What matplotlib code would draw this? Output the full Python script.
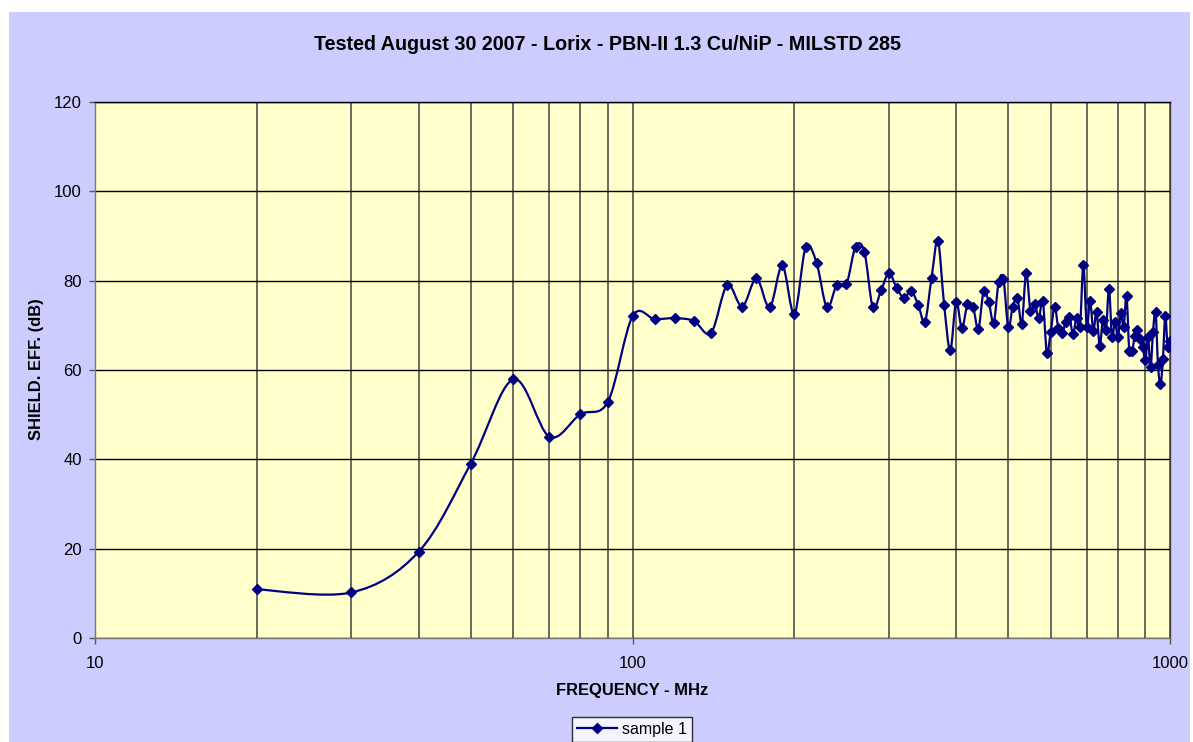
import numpy as np
import matplotlib
matplotlib.use("Agg")
import matplotlib.pyplot as plt
from matplotlib.path import Path
from matplotlib.patches import PathPatch, Rectangle
from matplotlib.lines import Line2D
from matplotlib.ticker import FixedLocator, NullLocator, FixedFormatter

plt.rcParams['font.family'] = ['Liberation Sans', 'DejaVu Sans']

title = "Tested August 30 2007 - Lorix - PBN-II 1.3 Cu/NiP - MILSTD 285"
x_label = "FREQUENCY - MHz"
y_label = "SHIELD. EFF. (dB)"
series_name = "sample 1"

freq_mhz = list(range(20, 1001, 10))
shield_db = [
    10.9, 10.2, 19.3, 39.0, 57.9, 45.1, 50.1, 52.9, 72.0,          # 20-100
    71.4, 71.6, 71.0, 68.3, 79.0, 74.2, 80.5, 74.0, 83.4, 72.5,    # 110-200
    87.5, 84.0, 74.0, 79.1, 79.2, 87.6, 86.5, 74.0, 77.8, 81.7,    # 210-300
    78.4, 76.1, 77.7, 74.6, 70.8, 80.6, 88.9, 74.6, 64.4, 75.2,    # 310-400
    69.4, 74.7, 74.2, 69.2, 77.6, 75.2, 70.6, 79.7, 80.3, 69.6,    # 410-500
    74.2, 76.2, 70.4, 81.8, 73.3, 74.8, 71.7, 75.4, 63.9, 68.6,    # 510-600
    74.2, 69.3, 68.2, 70.8, 71.9, 68.0, 71.6, 69.7, 83.5, 69.7,    # 610-700
    75.5, 68.8, 73.0, 65.4, 71.2, 68.9, 78.1, 67.5, 70.8, 67.3,    # 710-800
    72.8, 69.7, 76.6, 64.3, 64.3, 67.6, 68.9, 66.9, 65.2, 62.2,    # 810-900
    67.5, 60.6, 68.6, 73.0, 61.1, 56.8, 62.4, 72.1, 65.2, 66.6,    # 910-1000
]

y_ticks = [0, 20, 40, 60, 80, 100, 120]
x_ticks = [10, 100, 1000]
x_tick_labels = ["10", "100", "1000"]
x_grid = [20, 30, 40, 50, 60, 70, 80, 90, 200, 300, 400, 500, 600, 700, 800, 900]

NAVY = "#000080"
W, H = 1193, 742
fig = plt.figure(figsize=(W / 100, H / 100), dpi=100, facecolor="white")
fig.patches.append(Rectangle((9 / W, 0), (1190 - 9) / W, (H - 12) / H,
                             transform=fig.transFigure, facecolor="#CCCCFF",
                             edgecolor="none", zorder=-10))

ax = fig.add_axes([95 / W, 1 - 638 / H, (1170 - 95) / W, (638 - 102) / H])
ax.set_facecolor("#FFFFCC")
ax.set_xscale("log")
ax.set_xlim(10, 1000)
ax.set_ylim(0, 120)

# grid
for g in x_grid + x_ticks:
    ax.axvline(g, color="#404040", lw=1.1, zorder=1)
for t in y_ticks:
    ax.axhline(t, color="black", lw=1.0, zorder=1)

# smoothed line (Catmull-Rom via cubic Bezier in log-x space)
lx = np.log10(np.array(freq_mhz, dtype=float))
yy = np.array(shield_db, dtype=float)
pts = np.column_stack([lx, yy])
n = len(pts)
verts = [pts[0]]
codes = [Path.MOVETO]
for i in range(n - 1):
    p0 = pts[i - 1] if i > 0 else pts[i]
    p1 = pts[i]
    p2 = pts[i + 1]
    p3 = pts[i + 2] if i + 2 < n else pts[i + 1]
    c1 = p1 + (p2 - p0) / 6.0
    c2 = p2 - (p3 - p1) / 6.0
    verts += [c1, c2, p2]
    codes += [Path.CURVE4] * 3
verts = np.array(verts)
verts[:, 0] = 10 ** verts[:, 0]
ax.add_patch(PathPatch(Path(verts, codes), facecolor="none", edgecolor=NAVY,
                       lw=1.6, zorder=3))
ax.plot(freq_mhz, shield_db, linestyle="none", marker="D", markersize=5.2,
        color=NAVY, zorder=4)

ax.xaxis.set_major_locator(FixedLocator(x_ticks))
ax.xaxis.set_major_formatter(FixedFormatter(x_tick_labels))
ax.xaxis.set_minor_locator(NullLocator())
ax.set_yticks(y_ticks)
ax.tick_params(axis="both", direction="out", length=4.5, width=1, color="#555555",
               labelsize=12, labelcolor="black")
ax.tick_params(axis="x", pad=8.5)
ax.tick_params(axis="y", pad=5)
for s in ax.spines.values():
    s.set_color("#777777")
    s.set_linewidth(1.0)
ax.spines["top"].set_color("black")
ax.spines["right"].set_color("#404040")

fig.text(608 / W, 1 - 44 / H, title, ha="center", va="center",
         fontsize=14.2, fontweight="bold")
fig.text(632 / W, 1 - 690 / H, x_label, ha="center", va="center",
         fontsize=11.9, fontweight="bold")
fig.text(37 / W, 1 - 369 / H, y_label, ha="center", va="center",
         rotation=90, fontsize=11.9, fontweight="bold")

handle = Line2D([], [], color=NAVY, lw=1.6, marker="D", markersize=5.2)
leg = fig.legend([handle], [series_name], loc="upper center",
                 bbox_to_anchor=(632 / W, 1 - 717 / H), frameon=True,
                 fancybox=False, edgecolor="black", facecolor="white",
                 fontsize=11.5, handlelength=2.5, borderpad=0.3,
                 handletextpad=0.3, borderaxespad=0)
leg.get_frame().set_linewidth(1.0)

fig.savefig("out.png", dpi=100, facecolor="white")
